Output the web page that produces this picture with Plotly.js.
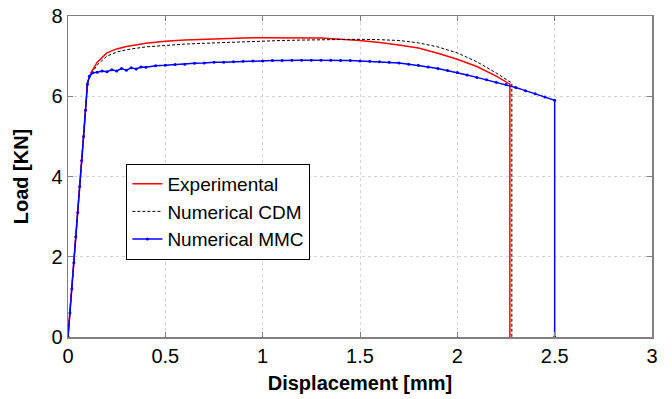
<!DOCTYPE html>
<html>
<head>
<meta charset="utf-8">
<script src="https://cdn.plot.ly/plotly-3.0.1.min.js"></script>
<style>html,body{margin:0;padding:0;background:#fff;}#chart{width:672px;height:399px;}</style>
</head>
<body>
<div id="chart"></div>
<script>
// Experimental
var expX = [0, 0.02, 0.05, 0.08, 0.1, 0.12, 0.15, 0.2, 0.25, 0.3, 0.4, 0.5, 0.6, 0.7, 0.8, 0.9, 1.0, 1.1, 1.2, 1.3, 1.4, 1.5, 1.6, 1.7, 1.8, 1.9, 2.0, 2.1, 2.2, 2.27, 2.27];
var expY = [0, 1.2, 3.1, 5.0, 6.35, 6.6, 6.85, 7.08, 7.18, 7.24, 7.32, 7.37, 7.40, 7.42, 7.44, 7.45, 7.46, 7.46, 7.46, 7.45, 7.42, 7.39, 7.34, 7.28, 7.20, 7.07, 6.92, 6.74, 6.50, 6.30, 0];
// Numerical CDM
var cdmX = [0, 0.02, 0.05, 0.08, 0.1, 0.12, 0.15, 0.2, 0.25, 0.3, 0.4, 0.5, 0.6, 0.7, 0.8, 0.9, 1.0, 1.1, 1.2, 1.3, 1.4, 1.5, 1.6, 1.7, 1.8, 1.9, 2.0, 2.1, 2.2, 2.28, 2.28];
var cdmY = [0, 1.2, 3.1, 5.0, 6.35, 6.55, 6.78, 7.0, 7.1, 7.16, 7.23, 7.27, 7.30, 7.32, 7.34, 7.36, 7.37, 7.39, 7.40, 7.41, 7.42, 7.42, 7.41, 7.39, 7.33, 7.23, 7.08, 6.86, 6.58, 6.33, 0];
// Numerical MMC
var mmcX = [0, 0.01, 0.02, 0.03, 0.04, 0.05, 0.06, 0.07, 0.08, 0.09, 0.1, 0.11, 0.125, 0.15, 0.175, 0.2, 0.225, 0.25, 0.275, 0.3, 0.325, 0.35, 0.375, 0.4, 0.45, 0.5, 0.55, 0.6, 0.65, 0.7, 0.75, 0.8, 0.85, 0.9, 0.95, 1.0, 1.05, 1.1, 1.15, 1.2, 1.25, 1.3, 1.35, 1.4, 1.45, 1.5, 1.55, 1.6, 1.65, 1.7, 1.75, 1.8, 1.85, 1.9, 1.95, 2.0, 2.05, 2.1, 2.15, 2.2, 2.25, 2.3, 2.35, 2.4, 2.45, 2.5, 2.5];
var mmcY = [0, 0.6, 1.2, 1.85, 2.5, 3.1, 3.75, 4.4, 5.0, 5.65, 6.3, 6.5, 6.58, 6.6, 6.63, 6.61, 6.66, 6.63, 6.69, 6.65, 6.71, 6.68, 6.73, 6.72, 6.76, 6.77, 6.79, 6.80, 6.82, 6.83, 6.85, 6.85, 6.86, 6.87, 6.88, 6.88, 6.89, 6.89, 6.90, 6.90, 6.90, 6.90, 6.90, 6.89, 6.89, 6.88, 6.87, 6.86, 6.85, 6.83, 6.80, 6.77, 6.73, 6.69, 6.64, 6.59, 6.53, 6.47, 6.41, 6.35, 6.29, 6.22, 6.14, 6.06, 5.98, 5.90, 0];

var names = ["Experimental", "Numerical CDM", "Numerical MMC"];
var xTicks = [0, 0.5, 1, 1.5, 2, 2.5, 3];
var xTickText = ["0", "0.5", "1", "1.5", "2", "2.5", "3"];
var yTicks = [0, 2, 4, 6, 8];

var traces = [
  {x: expX, y: expY, name: names[0], mode: "lines", line: {color: "#ff0000", width: 1.5}},
  {x: cdmX, y: cdmY, name: names[1], mode: "lines", line: {color: "#000000", width: 1, dash: "3px,2px"}},
  {x: mmcX, y: mmcY, name: names[2], mode: "lines+markers", line: {color: "#0000ff", width: 1.5}, marker: {color: "#0000ff", size: 3}}
];

var fontFam = "Liberation Sans, Arial, sans-serif";
var layout = {
  width: 672, height: 399,
  margin: {l: 68, r: 20, t: 16, b: 62, pad: 0},
  paper_bgcolor: "#fff", plot_bgcolor: "#fff",
  font: {family: fontFam, size: 20, color: "#000"},
  showlegend: true,
  legend: {x: 0.1, y: 0.39, xanchor: "left", yanchor: "middle", bgcolor: "#fff", bordercolor: "#000", borderwidth: 1, font: {size: 19, color: "#000"}, tracegroupgap: 0},
  xaxis: {
    range: [0, 3], tickvals: xTicks, ticktext: xTickText, showgrid: true, gridcolor: "#d3d3d3", griddash: "dot", gridwidth: 1,
    zeroline: false, showline: true, linecolor: "#808080", linewidth: 1.5, mirror: "ticks",
    ticks: "inside", ticklen: 5, tickcolor: "#808080", tickwidth: 1,
    tickfont: {size: 20, color: "#000"},
    title: {text: "<b>Displacement [mm]</b>", font: {size: 20, color: "#000"}, standoff: 10}
  },
  yaxis: {
    range: [0, 8], tickvals: yTicks, showgrid: true, gridcolor: "#d3d3d3", griddash: "dot", gridwidth: 1,
    zeroline: false, showline: true, linecolor: "#808080", linewidth: 1.5, mirror: "ticks",
    ticks: "inside", ticklen: 5, tickcolor: "#808080", tickwidth: 1,
    tickfont: {size: 20, color: "#000"},
    title: {text: "<b>Load [KN]</b>", font: {size: 20, color: "#000"}, standoff: 17}
  }
};

Plotly.newPlot("chart", traces, layout, {displayModeBar: false, staticPlot: true});
</script>
</body>
</html>
